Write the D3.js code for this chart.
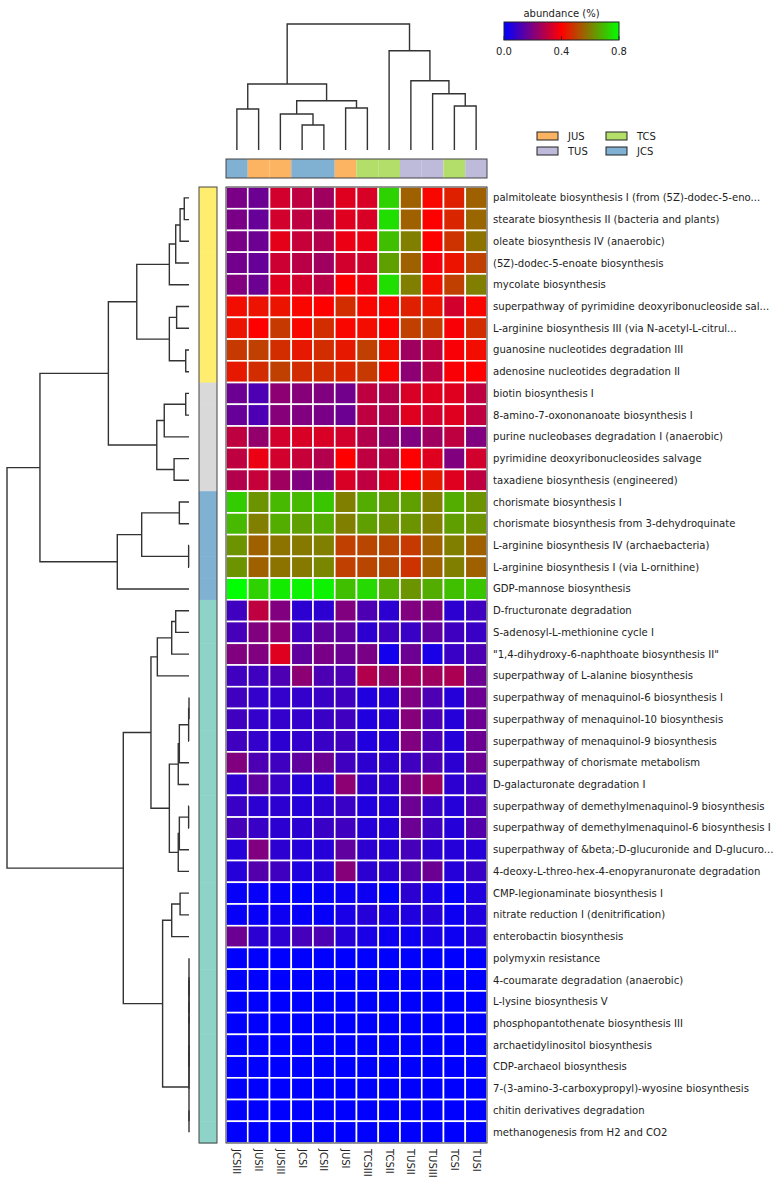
<!DOCTYPE html>
<html>
<head>
<meta charset="utf-8">
<title>Pathway abundance heatmap</title>
<script src="https://d3js.org/d3.v7.min.js"></script>
<style>
  body { margin: 0; background: #fff; }
  text { font-family: "DejaVu Sans", sans-serif; fill: #222; }
  .dend { fill: none; stroke: #333; stroke-width: 1.4; }
</style>
</head>
<body>
<div id="chart"></div>
<script>
// samples, in dendrogram order
const columns = ["JCSIII", "JUSII", "JUSIII", "JCSI", "JCSII", "JUSI", "TCSIII", "TCSII", "TUSII", "TUSIII", "TCSI", "TUSI"];
const colGroups = ["JCS", "JUS", "JUS", "JCS", "JCS", "JUS", "TCS", "TCS", "TUS", "TUS", "TCS", "TUS"];
const legendGroups = ["JUS", "TUS", "TCS", "JCS"];

const pathways = [
  "palmitoleate biosynthesis I (from (5Z)-dodec-5-eno...",
  "stearate biosynthesis II (bacteria and plants)",
  "oleate biosynthesis IV (anaerobic)",
  "(5Z)-dodec-5-enoate biosynthesis",
  "mycolate biosynthesis",
  "superpathway of pyrimidine deoxyribonucleoside sal...",
  "L-arginine biosynthesis III (via N-acetyl-L-citrul...",
  "guanosine nucleotides degradation III",
  "adenosine nucleotides degradation II",
  "biotin biosynthesis I",
  "8-amino-7-oxononanoate biosynthesis I",
  "purine nucleobases degradation I (anaerobic)",
  "pyrimidine deoxyribonucleosides salvage",
  "taxadiene biosynthesis (engineered)",
  "chorismate biosynthesis I",
  "chorismate biosynthesis from 3-dehydroquinate",
  "L-arginine biosynthesis IV (archaebacteria)",
  "L-arginine biosynthesis I (via L-ornithine)",
  "GDP-mannose biosynthesis",
  "D-fructuronate degradation",
  "S-adenosyl-L-methionine cycle I",
  "\"1,4-dihydroxy-6-naphthoate biosynthesis II\"",
  "superpathway of L-alanine biosynthesis",
  "superpathway of menaquinol-6 biosynthesis I",
  "superpathway of menaquinol-10 biosynthesis",
  "superpathway of menaquinol-9 biosynthesis",
  "superpathway of chorismate metabolism",
  "D-galacturonate degradation I",
  "superpathway of demethylmenaquinol-9 biosynthesis",
  "superpathway of demethylmenaquinol-6 biosynthesis I",
  "superpathway of &beta;-D-glucuronide and D-glucuro...",
  "4-deoxy-L-threo-hex-4-enopyranuronate degradation",
  "CMP-legionaminate biosynthesis I",
  "nitrate reduction I (denitrification)",
  "enterobactin biosynthesis",
  "polymyxin resistance",
  "4-coumarate degradation (anaerobic)",
  "L-lysine biosynthesis V",
  "phosphopantothenate biosynthesis III",
  "archaetidylinositol biosynthesis",
  "CDP-archaeol biosynthesis",
  "7-(3-amino-3-carboxypropyl)-wyosine biosynthesis",
  "chitin derivatives degradation",
  "methanogenesis from H2 and CO2"
];

// row cluster of each pathway (colour strip on the left)
const rowClusters = [1,1,1,1,1,1,1,1,1, 2,2,2,2,2, 3,3,3,3,3,
  4,4,4,4,4,4,4,4,4,4,4,4,4,4,4,4,4,4,4,4,4,4,4,4,4];

// abundance (%), one row per pathway, columns as above
const abundance = [
  [0.19,0.17,0.33,0.30,0.25,0.35,0.34,0.73,0.55,0.41,0.45,0.55],
  [0.19,0.16,0.33,0.30,0.26,0.35,0.34,0.75,0.55,0.40,0.46,0.56],
  [0.19,0.17,0.36,0.31,0.28,0.37,0.37,0.70,0.60,0.40,0.48,0.58],
  [0.18,0.16,0.32,0.29,0.25,0.33,0.33,0.65,0.55,0.38,0.43,0.50],
  [0.20,0.17,0.35,0.33,0.29,0.40,0.37,0.75,0.60,0.42,0.50,0.60],
  [0.42,0.43,0.43,0.41,0.40,0.47,0.41,0.41,0.45,0.43,0.33,0.41],
  [0.43,0.40,0.49,0.41,0.47,0.41,0.42,0.40,0.50,0.49,0.39,0.47],
  [0.49,0.50,0.47,0.44,0.47,0.44,0.50,0.42,0.25,0.30,0.39,0.42],
  [0.44,0.47,0.50,0.47,0.47,0.46,0.49,0.41,0.22,0.29,0.39,0.40],
  [0.17,0.12,0.22,0.21,0.20,0.18,0.30,0.28,0.34,0.35,0.35,0.30],
  [0.16,0.12,0.21,0.20,0.19,0.17,0.30,0.28,0.35,0.33,0.35,0.30],
  [0.30,0.23,0.33,0.34,0.34,0.33,0.28,0.23,0.20,0.25,0.30,0.20],
  [0.30,0.37,0.33,0.31,0.28,0.40,0.30,0.29,0.40,0.35,0.20,0.33],
  [0.28,0.31,0.25,0.20,0.20,0.34,0.30,0.35,0.40,0.44,0.35,0.30],
  [0.72,0.63,0.69,0.69,0.71,0.60,0.67,0.65,0.65,0.60,0.67,0.63],
  [0.69,0.60,0.67,0.65,0.67,0.60,0.65,0.63,0.63,0.60,0.65,0.63],
  [0.63,0.55,0.58,0.59,0.60,0.50,0.51,0.51,0.49,0.55,0.60,0.55],
  [0.63,0.55,0.58,0.59,0.61,0.50,0.51,0.51,0.48,0.55,0.60,0.55],
  [0.80,0.73,0.77,0.78,0.78,0.70,0.74,0.67,0.63,0.67,0.70,0.71],
  [0.10,0.30,0.20,0.07,0.07,0.20,0.12,0.07,0.20,0.20,0.07,0.10],
  [0.11,0.20,0.22,0.10,0.15,0.15,0.07,0.10,0.09,0.15,0.10,0.09],
  [0.20,0.20,0.35,0.15,0.19,0.17,0.19,0.03,0.17,0.04,0.09,0.12],
  [0.10,0.10,0.12,0.22,0.12,0.12,0.28,0.23,0.25,0.25,0.27,0.17],
  [0.10,0.08,0.08,0.08,0.09,0.10,0.05,0.06,0.20,0.12,0.06,0.17],
  [0.10,0.08,0.08,0.08,0.09,0.10,0.05,0.06,0.21,0.12,0.06,0.17],
  [0.10,0.08,0.07,0.08,0.09,0.10,0.05,0.06,0.20,0.12,0.06,0.17],
  [0.20,0.12,0.10,0.15,0.17,0.10,0.07,0.07,0.10,0.12,0.07,0.17],
  [0.07,0.15,0.09,0.06,0.06,0.22,0.07,0.07,0.20,0.24,0.07,0.10],
  [0.09,0.07,0.07,0.06,0.07,0.09,0.05,0.06,0.17,0.09,0.06,0.12],
  [0.11,0.09,0.07,0.07,0.09,0.10,0.06,0.06,0.17,0.10,0.06,0.13],
  [0.06,0.20,0.07,0.06,0.06,0.15,0.07,0.06,0.11,0.07,0.06,0.06],
  [0.06,0.13,0.10,0.05,0.06,0.21,0.07,0.07,0.13,0.17,0.06,0.09],
  [0.01,0.01,0.01,0.00,0.01,0.02,0.02,0.00,0.07,0.04,0.01,0.05],
  [0.01,0.01,0.02,0.01,0.01,0.04,0.06,0.04,0.05,0.06,0.02,0.05],
  [0.17,0.07,0.07,0.11,0.12,0.06,0.04,0.02,0.02,0.04,0.02,0.05],
  [0,0,0,0,0,0,0,0,0,0,0,0],
  [0,0,0,0,0,0,0,0,0,0,0,0],
  [0,0,0,0,0,0,0,0,0,0,0,0],
  [0,0,0,0,0,0,0,0,0,0,0,0],
  [0,0,0,0,0,0,0,0,0,0,0,0],
  [0,0,0,0,0,0,0,0,0,0,0,0],
  [0,0,0,0,0,0,0,0,0,0,0,0],
  [0,0,0,0,0,0,0,0,0,0,0,0],
  [0,0,0,0,0,0,0,0,0,0,0,0]
];

// linkage tables: [childA, childB, distance]; leaves 0..n-1, merges numbered n, n+1, ...
const colLinkage = [
  [0, 1, 0.325], [3, 4, 0.198], [2, 13, 0.286], [5, 6, 0.333], [14, 15, 0.391],
  [12, 16, 0.524], [10, 11, 0.349], [9, 18, 0.447], [8, 19, 0.55], [7, 20, 0.788],
  [17, 21, 1.0]
];
const rowLinkage = [
  [0, 1, 0.026], [44, 2, 0.049], [45, 3, 0.073], [46, 4, 0.108], [5, 6, 0.068],
  [7, 8, 0.018], [48, 49, 0.108], [47, 50, 0.287], [9, 10, 0.018], [52, 11, 0.136],
  [12, 13, 0.082], [53, 54, 0.177], [51, 55, 0.443], [14, 15, 0.053], [16, 17, 0.002],
  [57, 58, 0.26], [59, 18, 0.394], [56, 60, 0.819], [19, 20, 0.073], [62, 21, 0.095],
  [63, 22, 0.174], [23, 24, 0.0], [65, 25, 0.002], [66, 26, 0.053], [67, 27, 0.059],
  [28, 29, 0.002], [69, 30, 0.053], [70, 31, 0.059], [68, 71, 0.108], [64, 72, 0.209],
  [32, 33, 0.049], [74, 34, 0.095], [37, 38, 0], [36, 76, 0], [35, 77, 0],
  [39, 40, 0], [78, 79, 0], [80, 41, 0], [42, 43, 0], [81, 82, 0],
  [75, 83, 0.145], [73, 84, 0.361], [61, 85, 1.0]
];

const colorTicks = [0.0, 0.4, 0.8];

const W = 781, H = 1182;
const groupColor = d3.scaleOrdinal()
  .domain(["JUS", "TUS", "TCS", "JCS"])
  .range(["#fdb462", "#bebada", "#b3de69", "#80b1d3"]);
const clusterColor = d3.scaleOrdinal()
  .domain([1, 2, 3, 4])
  .range(["#ffed6f", "#d9d9d9", "#80b1d3", "#8dd3c7"]);
const color = d3.scaleLinear()
  .domain(colorTicks)
  .range(["#0000ff", "#ff0000", "#00ff00"])
  .interpolate(d3.interpolateRgb)
  .clamp(true);

const svg = d3.select("#chart").append("svg")
  .attr("width", W).attr("height", H);

const x = d3.scaleBand().domain(columns).range([226, 487]);
const y = d3.scaleBand().domain(pathways).range([187, 1143]);

// heatmap cells
const cells = [];
abundance.forEach((row, i) => row.forEach((v, j) => cells.push({ p: pathways[i], c: columns[j], v: v })));
svg.append("g").selectAll("rect")
  .data(cells)
  .enter().append("rect")
  .attr("x", d => x(d.c))
  .attr("y", d => y(d.p))
  .attr("width", x.bandwidth())
  .attr("height", y.bandwidth())
  .attr("fill", d => color(d.v))
  .attr("stroke", "#fff")
  .attr("stroke-width", 1.6);
svg.append("rect")
  .attr("x", 226).attr("y", 187).attr("width", 261).attr("height", 956)
  .attr("fill", "none").attr("stroke", "#333").attr("stroke-width", 1);

// row labels
svg.append("g").selectAll("text")
  .data(pathways)
  .enter().append("text")
  .attr("x", 493)
  .attr("y", d => y(d) + y.bandwidth() / 2)
  .attr("dy", "0.35em")
  .style("font-size", "10.1px")
  .text(d => d);

// column labels
svg.append("g").selectAll("text")
  .data(columns)
  .enter().append("text")
  .attr("transform", d => `translate(${x(d) + x.bandwidth() / 2},1149) rotate(90)`)
  .attr("dy", "0.35em")
  .style("font-size", "10px")
  .text(d => d);

// column group strip
svg.append("g").selectAll("rect")
  .data(columns)
  .enter().append("rect")
  .attr("x", d => x(d)).attr("y", 159)
  .attr("width", x.bandwidth()).attr("height", 19)
  .attr("fill", (d, i) => groupColor(colGroups[i]));
svg.append("rect").attr("x", 226).attr("y", 159).attr("width", 261).attr("height", 19)
  .attr("fill", "none").attr("stroke", "#444").attr("stroke-width", 1);

// row cluster strip
svg.append("g").selectAll("rect")
  .data(pathways)
  .enter().append("rect")
  .attr("x", 199).attr("y", d => y(d))
  .attr("width", 18).attr("height", y.bandwidth() + 0.5)
  .attr("fill", (d, i) => clusterColor(rowClusters[i]));
svg.append("rect").attr("x", 199).attr("y", 187).attr("width", 18).attr("height", 956)
  .attr("fill", "none").attr("stroke", "#444").attr("stroke-width", 1);

// dendrograms: one U-shaped path per merge
function dendroSegments(linkage, leafPos) {
  const n = linkage.length + 1;
  const pos = [], ht = [];
  for (let i = 0; i < n; i++) { pos[i] = leafPos(i); ht[i] = 0; }
  const segs = [];
  linkage.forEach((m, k) => {
    const [a, b, dist] = m;
    const id = n + k;
    pos[id] = (pos[a] + pos[b]) / 2;
    ht[id] = dist;
    segs.push([[pos[a], ht[a]], [pos[a], dist], [pos[b], dist], [pos[b], ht[b]]]);
  });
  return segs;
}

const colDist = d3.scaleLinear().domain([0, 1]).range([150, 24]);
const colSegs = dendroSegments(colLinkage, i => x(columns[i]) + x.bandwidth() / 2);
svg.append("g").selectAll("path")
  .data(colSegs)
  .enter().append("path")
  .attr("class", "dend")
  .attr("d", s => d3.line()(s.map(p => [p[0], colDist(p[1])])));

const rowDist = d3.scaleLinear().domain([0, 1]).range([189, 7]);
const rowSegs = dendroSegments(rowLinkage, i => y(pathways[i]) + y.bandwidth() / 2);
svg.append("g").selectAll("path")
  .data(rowSegs)
  .enter().append("path")
  .attr("class", "dend")
  .attr("d", s => d3.line()(s.map(p => [rowDist(p[1]), p[0]])));

// colour bar
const cbX = d3.scaleLinear().domain([0, 0.8]).range([504, 619]);
const grad = svg.append("defs").append("linearGradient").attr("id", "cb")
  .attr("x1", "0%").attr("x2", "100%");
d3.range(0, 1.0001, 0.05).forEach(t => {
  grad.append("stop").attr("offset", (t * 100) + "%").attr("stop-color", color(t * 0.8));
});
svg.append("rect").attr("x", 504).attr("y", 22).attr("width", 115).attr("height", 18)
  .attr("fill", "url(#cb)").attr("stroke", "#222").attr("stroke-width", 1);
svg.append("text").attr("x", 561.5).attr("y", 16.5).attr("text-anchor", "middle")
  .style("font-size", "10px").text("abundance (%)");
const cbAxis = svg.append("g");
cbAxis.selectAll("line").data(colorTicks).enter().append("line")
  .attr("x1", d => cbX(d)).attr("x2", d => cbX(d))
  .attr("y1", 40).attr("y2", 36).attr("stroke", "#222").attr("stroke-width", 0.8);
cbAxis.selectAll("text").data(colorTicks).enter().append("text")
  .attr("x", d => cbX(d)).attr("y", 54.5).attr("text-anchor", "middle")
  .style("font-size", "10px").text(d => d3.format(".1f")(d));

// legend
const lg = svg.append("g").selectAll("g")
  .data(legendGroups)
  .enter().append("g")
  .attr("transform", (d, i) => `translate(${537 + Math.floor(i / 2) * 69},${132 + (i % 2) * 15})`);
lg.append("rect").attr("width", 21).attr("height", 8)
  .attr("fill", d => groupColor(d)).attr("stroke", "#222").attr("stroke-width", 1);
lg.append("text").attr("x", 31).attr("y", 4).attr("dy", "0.35em")
  .style("font-size", "10px").text(d => d);
</script>
</body>
</html>
